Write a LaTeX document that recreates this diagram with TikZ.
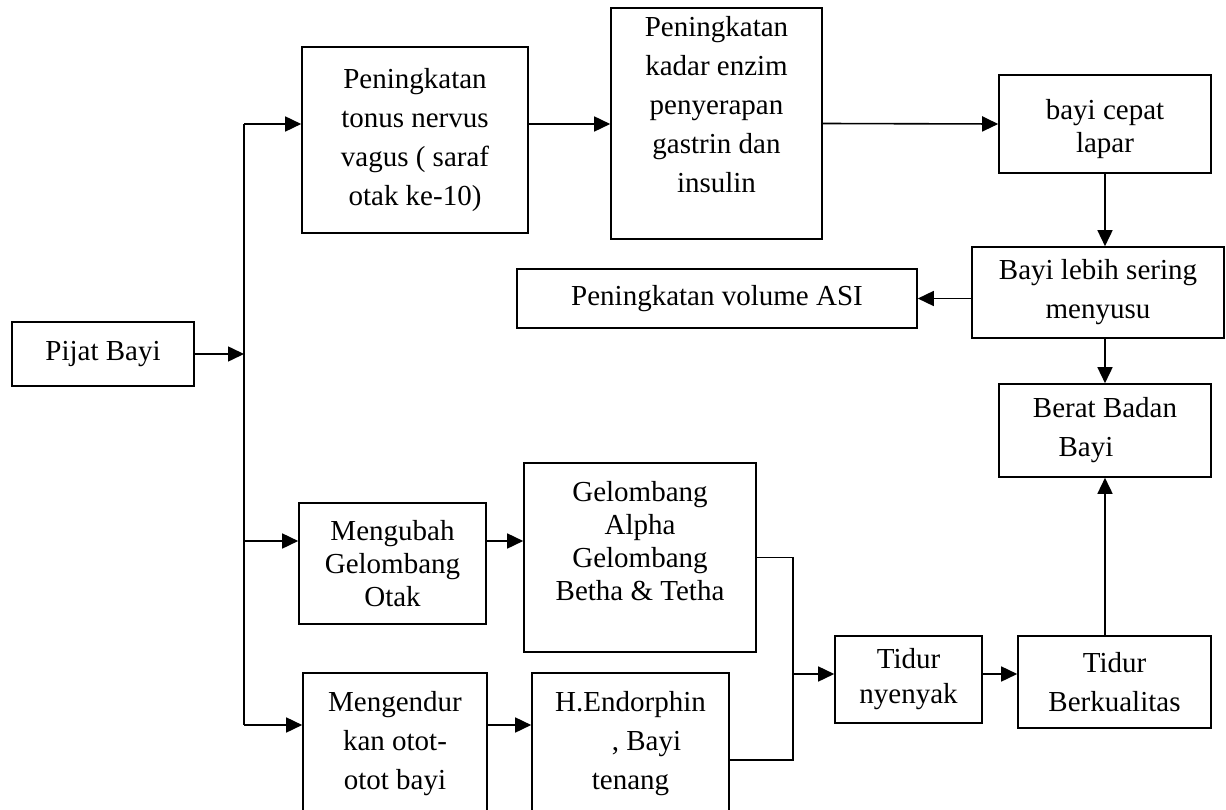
\documentclass[tikz,border=0pt]{standalone}
\usepackage{fontspec}
\setmainfont{Liberation Serif}
\usetikzlibrary{arrows.meta, positioning, calc}

\begin{document}
\begin{tikzpicture}[
    x=1pt, y=-1pt,
    box/.style={draw, line width=1.6pt, align=center, inner sep=0pt, font=\fontsize{29}{39}\selectfont},
    tight/.style={font=\fontsize{29}{33}\selectfont},
    flow/.style={-{Triangle[length=16pt, width=15pt]}, line width=1.6pt},
    link/.style={line width=1.6pt}
]
\useasboundingbox (0,0) rectangle (1226,810);
\clip (0,0) rectangle (1226,810);

\node[box, minimum width=182pt, minimum height=64pt] (pijat) at (103,354) {Pijat Bayi};

% upper branch
\node[box, minimum width=226pt, minimum height=186pt] (tonus) at (415,140) {Peningkatan\\tonus nervus\\vagus ( saraf\\otak ke-10)};
\node[box, minimum width=211pt, minimum height=231pt] (enzim) at (716.5,123.5) {Peningkatan\\kadar enzim\\penyerapan\\gastrin dan\\insulin\\~};
\node[box, tight, minimum width=212pt, minimum height=98pt] (lapar) at (1105,124) {\rule{0pt}{30pt}bayi cepat\\lapar};
\node[box, minimum width=252pt, minimum height=91pt] (menyusu) at (1098,292.5) {Bayi lebih sering\\menyusu};
\node[box, minimum width=400pt, minimum height=59pt] (asi) at (717,298.5) {Peningkatan volume ASI};
\node[box, minimum width=212pt, minimum height=93pt] (berat) at (1105,430.5) {Berat Badan\\Bayi\hspace*{38pt}};

% lower branches
\node[box, tight, minimum width=187pt, minimum height=121pt] (otak) at (392.5,563.5) {Mengubah\\Gelombang\\Otak};
\node[box, tight, minimum width=232pt, minimum height=189pt] (gelombang) at (640,557.5) {Gelombang\\Alpha\hspace*{36pt}\\Gelombang\\Betha \& Tetha\\~};
\node[box, minimum width=184pt, minimum height=174pt] (otot) at (395,760) {Mengendur\\kan otot-\\otot bayi\\~};
\node[box, minimum width=197pt, minimum height=174pt] (endorphin) at (630.5,760) {H.Endorphin\\\hspace*{32pt}, Bayi\\tenang\\~};
\node[box, font=\fontsize{29}{35}\selectfont, minimum width=147pt, minimum height=87pt] (nyenyak) at (908.5,679.5) {Tidur\\nyenyak};
\node[box, minimum width=193pt, minimum height=92pt] (kualitas) at (1114.5,682) {Tidur\\Berkualitas};

\coordinate (bustop) at (244,124);
\coordinate (busmid) at (244,541);
\coordinate (busbot) at (244,725);
\coordinate (join) at (793,674);

\draw[link] (bustop) -- (busbot);
\draw[flow] (pijat.east) -- (pijat.east -| bustop);
\draw[flow] (bustop) -- (tonus.west |- bustop);
\draw[flow] (tonus.east |- bustop) -- (enzim.west |- bustop);
\draw[flow] (enzim.east) -- (lapar.west);
\draw[flow] (lapar.south) -- (menyusu.north -| lapar.south);
\draw[flow] (menyusu.west |- asi.east) -- (asi.east);
\draw[flow] (menyusu.south -| berat.north) -- (berat.north);

\draw[flow] (busmid) -- (otak.west |- busmid);
\draw[flow] (otak.east |- busmid) -- (gelombang.west |- busmid);
\draw[flow] (busbot) -- (otot.west |- busbot);
\draw[flow] (otot.east |- busbot) -- (endorphin.west |- busbot);
\draw[link] (gelombang.east) -| (join);
\draw[link] (endorphin.east) -| (join);
\draw[flow] (join) -- (nyenyak.west |- join);
\draw[flow] (nyenyak.east |- join) -- (kualitas.west |- join);
\draw[flow] (kualitas.north -| berat.south) -- (berat.south);
\end{tikzpicture}
\end{document}
